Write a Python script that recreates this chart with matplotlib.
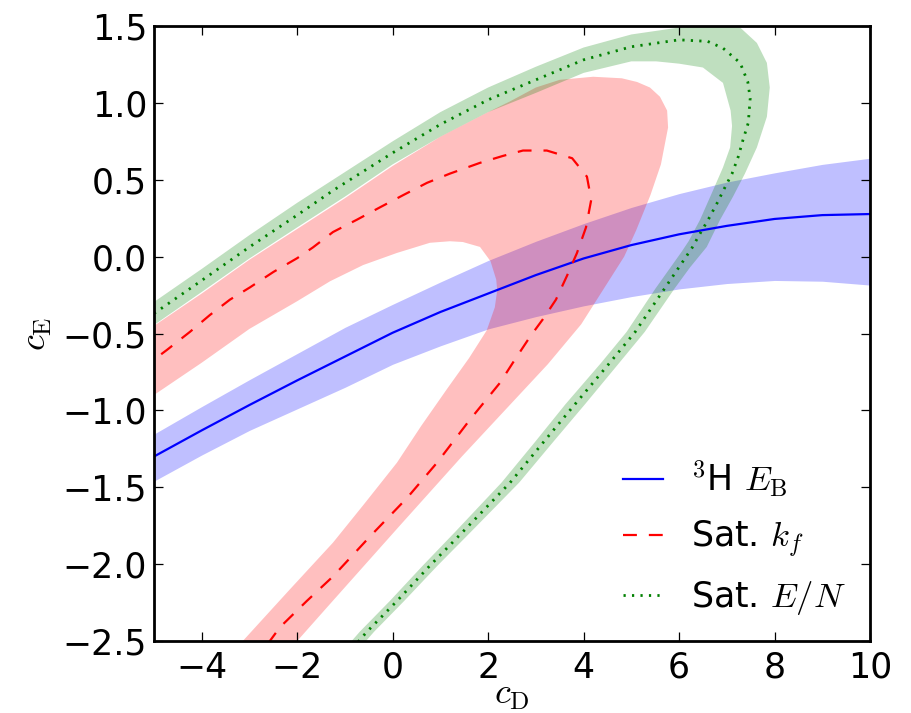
import matplotlib
matplotlib.use("Agg")
import matplotlib.pyplot as plt

plt.rcParams['mathtext.fontset'] = 'cm'
plt.rcParams['font.family'] = ['DejaVu Sans']
plt.rcParams['lines.scale_dashes'] = False

# ---- 3H binding energy band (blue) ----
cD_blue = [-5, -4, -3, -2, -1, 0, 1, 2, 3, 4, 5, 6, 7, 8, 9, 10]
cE_blue = [-1.30, -1.13, -0.965, -0.805, -0.65, -0.495, -0.36, -0.24, -0.12, -0.012,
           0.075, 0.145, 0.20, 0.245, 0.27, 0.277]
cE_blue_lo = [-1.46, -1.29, -1.13, -0.99, -0.85, -0.70, -0.58, -0.47, -0.39, -0.32,
              -0.26, -0.21, -0.175, -0.155, -0.16, -0.185]
cE_blue_hi = [-1.154, -0.975, -0.80, -0.63, -0.46, -0.31, -0.165, -0.025, 0.10, 0.215,
              0.32, 0.41, 0.485, 0.545, 0.60, 0.64]

# ---- Saturation k_f (red) ----
kf_cD = [-2.62, -2.36, -1.80, -1.25, -0.475, 0.30, 0.93, 1.62, 2.25, 2.56, 2.88, 3.15, 3.42,
         3.65, 3.86, 4.05, 4.16, 4.07, 3.76, 3.23, 2.73, 2.31, 1.83, 1.20, 0.72, 0.22, -0.27,
         -0.75, -1.25, -1.67, -2.0, -2.5, -2.99, -3.41, -3.83, -4.25, -4.73, -5.0]
kf_cE = [-2.52, -2.41, -2.24, -2.08, -1.82, -1.57, -1.34, -1.06, -0.82, -0.67, -0.52, -0.406,
         -0.28, -0.126, 0.023, 0.19, 0.37, 0.52, 0.64, 0.69, 0.69, 0.655, 0.61, 0.54, 0.48,
         0.40, 0.32, 0.24, 0.16, 0.06, -0.01, -0.10, -0.20, -0.28, -0.38, -0.49, -0.607, -0.67]
kf_out_cD = [-2.10, -2.0, -1.4, 0.12, 1.45, 2.56, 3.25, 3.95, 4.4, 4.85, 5.1, 5.4, 5.62, 5.77,
             5.75, 5.60, 5.39, 5.12, 4.8, 4.2, 3.5, 3.0, 2.46, 2, 1, 0, -1, -2, -3, -4, -5]
kf_out_cE = [-2.55, -2.5, -2.29, -1.76, -1.30, -0.93, -0.70, -0.44, -0.22, 0.0, 0.17, 0.4, 0.6,
             0.84, 0.95, 1.04, 1.10, 1.136, 1.16, 1.17, 1.15, 1.10, 1.01, 0.94, 0.78, 0.59,
             0.38, 0.18, -0.02, -0.24, -0.45]
kf_in_cD = [-5, -4, -3, -2, -1.31, -0.62, 0.09, 0.78, 1.2, 1.47, 1.83, 2.05, 2.17, 2.19, 2.14,
            1.97, 1.6, 1.14, 0.6, 0.09, -0.6, -1.25, -2.2, -3.14, -3.3]
kf_in_cE = [-0.90, -0.69, -0.47, -0.29, -0.16, -0.055, 0.024, 0.09, 0.10, 0.095, 0.063, -0.03,
            -0.15, -0.22, -0.33, -0.48, -0.66, -0.86, -1.10, -1.34, -1.61, -1.86, -2.18, -2.5,
            -2.55]

# ---- Saturation E/N (green) ----
en_cD = [-5, -4, -3, -2, -1.25, 0, 1, 2, 3, 4, 5, 6, 6.6, 6.92, 7.28, 7.44, 7.49, 7.45, 7.34,
         7.24, 7.11, 6.96, 6.80, 6.61, 6.44, 6.27, 5.7, 5.08, 4.55, 3.82, 3.15, 2.46, 1.47,
         0.78, 0.09, -0.54, -0.85]
en_cE = [-0.37, -0.155, 0.063, 0.27, 0.43, 0.675, 0.86, 1.02, 1.15, 1.28, 1.365, 1.41, 1.40,
         1.356, 1.26, 1.136, 1.03, 0.87, 0.76, 0.65, 0.54, 0.45, 0.35, 0.24, 0.15, 0.056,
         -0.206, -0.49, -0.69, -0.96, -1.21, -1.47, -1.79, -2.01, -2.24, -2.44, -2.55]
en_out_cD = [-5, -4, -3, -2, -1, 0, 1, 2, 3, 4, 5, 6, 6.8, 7.28, 7.63, 7.84, 7.9, 7.84, 7.63,
             7.38, 7.13, 6.86, 6.58, 6.23, 5.9, 5.28, 4.75, 4.03, 3.35, 2.65, 1.64, 0.94, 0.24,
             -0.39, -0.70]
en_out_cE = [-0.295, -0.08, 0.14, 0.35, 0.55, 0.75, 0.94, 1.10, 1.235, 1.36, 1.445, 1.49, 1.50,
             1.49, 1.39, 1.26, 1.10, 0.91, 0.71, 0.54, 0.39, 0.24, 0.063, -0.07, -0.21, -0.49,
             -0.69, -0.96, -1.21, -1.47, -1.79, -2.01, -2.24, -2.44, -2.55]
en_in_cD = [-5, -4, -3, -2, -1, 0, 1, 2, 3, 4, 5, 5.52, 6.0, 6.5, 6.92, 7.08, 7.11, 7.07, 6.92,
            6.71, 6.44, 6.2, 6.05, 5.5, 4.9, 4.37, 3.62, 2.97, 2.28, 1.31, 0.63, -0.06, -0.69,
            -1.0]
en_in_cE = [-0.445, -0.23, -0.012, 0.19, 0.39, 0.60, 0.78, 0.94, 1.065, 1.195, 1.27, 1.27,
            1.255, 1.23, 1.13, 0.95, 0.85, 0.71, 0.58, 0.43, 0.24, 0.1, 0.03, -0.21, -0.49,
            -0.69, -0.96, -1.21, -1.47, -1.79, -2.01, -2.24, -2.44, -2.55]

labels = [r"$^{3}$H $E_{\rm B}$", r"Sat. $k_f$", r"Sat. $E/N$"]

fig = plt.figure(figsize=(9.12, 7.13), dpi=100)
ax = fig.add_axes([154/912, 1-641/713, (870-154)/912, (641-26)/713])

ax.fill_between(cD_blue, cE_blue_lo, cE_blue_hi, color='blue', alpha=0.25, lw=0)
ax.fill(kf_out_cD + kf_in_cD, kf_out_cE + kf_in_cE, color='red', alpha=0.25, lw=0)
ax.fill(en_out_cD + en_in_cD[::-1], en_out_cE + en_in_cE[::-1], color='green', alpha=0.25, lw=0)

ax.plot(cD_blue, cE_blue, color='blue', lw=1.6, label=labels[0])
ax.plot(kf_cD, kf_cE, color='red', lw=1.6, dashes=(10, 8.6), label=labels[1])
ax.plot(en_cD, en_cE, color='green', lw=2.0, dashes=(1.6, 4.5), label=labels[2])

ax.set_xlim(-5, 10)
ax.set_ylim(-2.5, 1.5)
ax.set_xticks([-4, -2, 0, 2, 4, 6, 8, 10])
ax.set_yticks([-2.5, -2.0, -1.5, -1.0, -0.5, 0.0, 0.5, 1.0, 1.5])
ax.tick_params(direction='in', top=True, right=True, length=6.5, width=0.9,
               labelsize=25)
ax.tick_params(axis='x', pad=7)
ax.tick_params(axis='y', pad=5)
for s in ax.spines.values():
    s.set_linewidth(2.0)

ax.set_xlabel(r"$c_{\rm D}$", fontsize=26, labelpad=-5)
ax.set_ylabel(r"$c_{\rm E}$", fontsize=26, labelpad=6)

leg = ax.legend(loc='lower right', frameon=False, fontsize=25, handlelength=1.15,
                handletextpad=0.8, labelspacing=0.55, borderaxespad=0.3)

fig.savefig("out.png", dpi=100)
